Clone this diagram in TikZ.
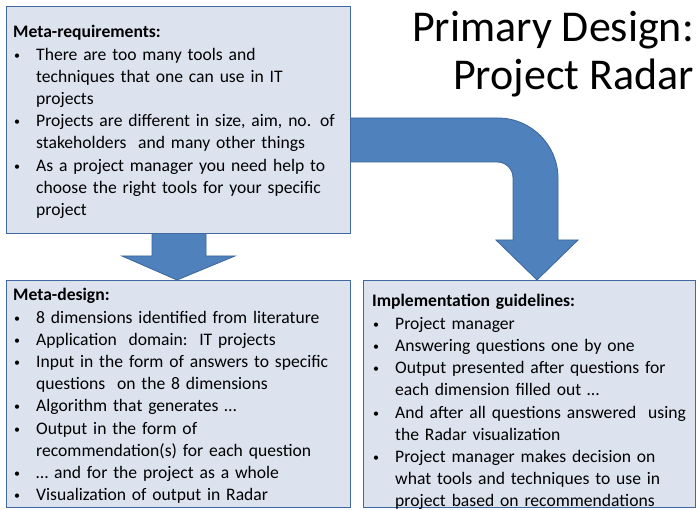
\documentclass[tikz,border=0pt]{standalone}
\usepackage{fontspec}
\setmainfont{Carlito}
\definecolor{boxfill}{HTML}{DCE3EF}
\definecolor{boxline}{HTML}{41699F}
\definecolor{arrowfill}{HTML}{4F81BD}
\definecolor{arrowline}{HTML}{3A659C}
\newcommand{\smallbullet}{\raisebox{1pt}{\fontsize{12pt}{12pt}\selectfont\textbullet}}
\newenvironment{bulletlist}{%
  \begin{list}{\smallbullet}{%
    \setlength{\leftmargin}{23pt}%
    \setlength{\labelwidth}{7pt}%
    \setlength{\labelsep}{16pt}%
    \setlength{\itemsep}{0pt}%
    \setlength{\parsep}{0pt}%
    \setlength{\topsep}{0pt}%
    \setlength{\partopsep}{0pt}}}%
  {\end{list}}
\begin{document}
\begin{tikzpicture}[x=1pt,y=-1pt,
  panel/.style={draw=boxline, fill=boxfill, line width=1.3pt, rectangle,
    inner sep=0pt, anchor=north west},
  paneltext/.style={anchor=base west, inner sep=0pt, align=left,
    font=\fontsize{17.6pt}{22.2pt}\selectfont},
  blockarrow/.style={fill=arrowfill, draw=arrowline, line width=0.8pt,
    line join=miter},
  title/.style={anchor=base east, inner sep=0pt,
    font=\fontsize{44pt}{48pt}\selectfont}]
\useasboundingbox (0,0) rectangle (698,510);

% title
\node[title] (title1) at (694,42) {Primary Design:};
\node[title] (title2) at (694,90) {Project Radar};

% straight block arrow from the requirements to the meta-design
\draw[blockarrow] (152,226) -- (152,256) -- (122,256) -- (177,280)
  -- (235,256) -- (206,256) -- (206,226) -- cycle;

% bent block arrow from the requirements to the guidelines
\draw[blockarrow] (340,118) -- (498,118)
  .. controls (531,118) and (558,145) .. (558,178)
  -- (558,240) -- (578,240) -- (537,280) -- (496,240) -- (513,240)
  -- (513,178) .. controls (513,169) and (506,162) .. (497,162)
  -- (340,162) -- cycle;

% panels
\node[panel, minimum width=344pt, minimum height=227pt] (req) at (6,6) {};
\node[panel, minimum width=344pt, minimum height=227pt] (design) at (6,280) {};
\node[panel, minimum width=332pt, minimum height=227pt] (impl) at (363,280) {};

\node[paneltext, text width=330pt] (reqtext) at (13,38) {%
  \textbf{Meta-requirements:}
  \begin{bulletlist}
  \item There are too many tools and\\techniques that one can use in IT\\projects
  \item Projects are different in size, aim, no. of\\stakeholders\ \ and many other things
  \item As a project manager you need help to\\choose the right tools for your specific\\project
  \end{bulletlist}};

\node[paneltext, text width=330pt] (designtext) at (13,301) {%
  \textbf{Meta-design:}
  \begin{bulletlist}
  \item 8 dimensions identified from literature
  \item Application\ \ domain:\ \ IT projects
  \item Input in the form of answers to specific\\questions\ \ on the 8 dimensions
  \item Algorithm that generates \ldots
  \item Output in the form of\\recommendation(s) for each question
  \item \ldots\ and for the project as a whole
  \item Visualization of output in Radar
  \end{bulletlist}};

\node[paneltext, text width=318pt] (impltext) at (372,307) {%
  \textbf{Implementation guidelines:}
  \begin{bulletlist}
  \item Project manager
  \item Answering questions one by one
  \item Output presented after questions for\\each dimension filled out \ldots
  \item And after all questions answered\ \ using\\the Radar visualization
  \item Project manager makes decision on\\what tools and techniques to use in\\project based on recommendations
  \end{bulletlist}};
\end{tikzpicture}
\end{document}
